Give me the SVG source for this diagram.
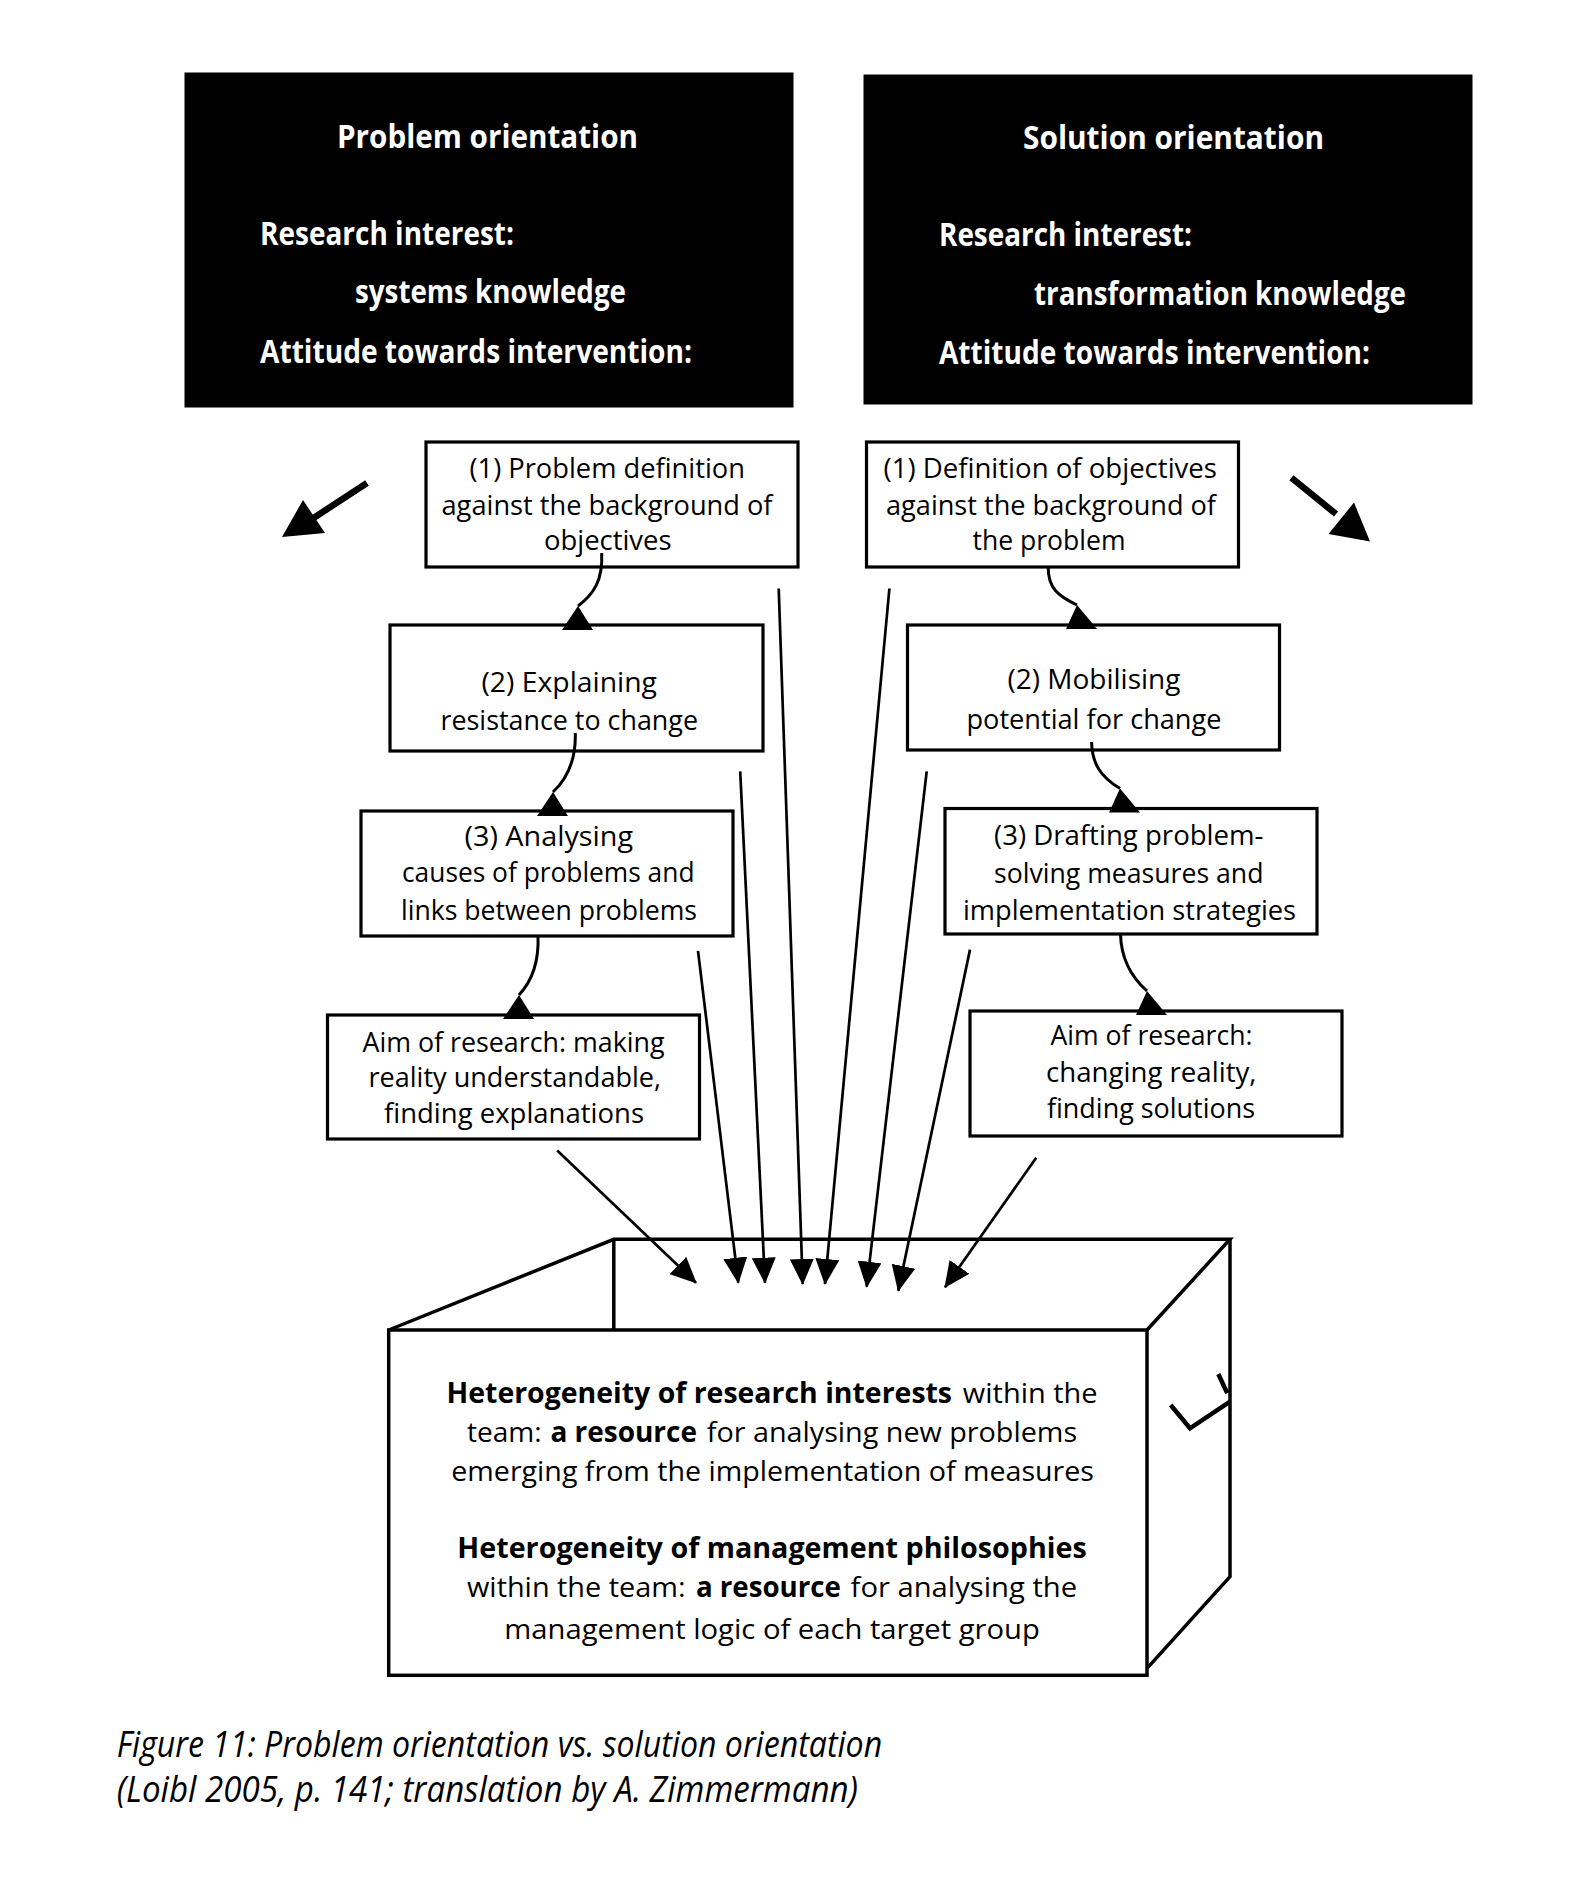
<svg xmlns="http://www.w3.org/2000/svg" width="1575" height="1887" viewBox="0 0 1575 1887">
<style>
text { font-family: "Open Sans", "Liberation Sans", Arial, sans-serif; fill: #000; }
.hd { font-size: 33px; font-weight: bold; fill: #fff; }
.bx { font-size: 28px; }
.b { font-weight: bold; }
.cap { font-size: 36px; font-style: italic; }
.box { fill: #fff; stroke: #000; stroke-width: 3.2; }
.blk { fill: #000; stroke: #000; }
.cube { fill: none; stroke: #000; stroke-width: 3.5; stroke-linejoin: miter; }
.thin { fill: none; stroke: #000; stroke-width: 2.7; }
.crv { fill: none; stroke: #000; stroke-width: 3; }
.thick { fill: none; stroke: #000; stroke-width: 6.5; }
.head { fill: #000; stroke: none; }
</style>
<defs>
<marker id="ah" markerWidth="26" markerHeight="24" refX="25" refY="12" orient="auto" markerUnits="userSpaceOnUse">
<path d="M0,0 L26,12 L0,24 z" fill="#000"/>
</marker>
</defs>
<rect width="1575" height="1887" fill="#fff"/>

<g id="problem-orientation">
<rect class="blk" x="185" y="73" width="608" height="334"/>
<text class="hd" x="337" y="148" textLength="301" lengthAdjust="spacingAndGlyphs">Problem orientation</text>
<text class="hd" x="260" y="245" textLength="254" lengthAdjust="spacingAndGlyphs">Research interest:</text>
<text class="hd" x="355" y="303" textLength="271" lengthAdjust="spacingAndGlyphs">systems knowledge</text>
<text class="hd" x="260" y="363" textLength="432" lengthAdjust="spacingAndGlyphs">Attitude towards intervention:</text>
</g>

<g id="solution-orientation">
<rect class="blk" x="864" y="75" width="608" height="329"/>
<text class="hd" x="1023" y="149" textLength="301" lengthAdjust="spacingAndGlyphs">Solution orientation</text>
<text class="hd" x="939" y="246" textLength="253" lengthAdjust="spacingAndGlyphs">Research interest:</text>
<text class="hd" x="1034" y="305" textLength="372" lengthAdjust="spacingAndGlyphs">transformation knowledge</text>
<text class="hd" x="939" y="364" textLength="431" lengthAdjust="spacingAndGlyphs">Attitude towards intervention:</text>
</g>

<g id="L1">
<rect class="box" x="426" y="442" width="372" height="125"/>
<text class="bx" x="469.5" y="478" textLength="275.5" lengthAdjust="spacingAndGlyphs">(1) Problem definition</text>
<text class="bx" x="441.5" y="514.5" textLength="331" lengthAdjust="spacingAndGlyphs">against the background of</text>
<text class="bx" x="544" y="550" textLength="127.5" lengthAdjust="spacingAndGlyphs">objectives</text>
</g>

<g id="L2">
<rect class="box" x="390" y="625" width="373" height="126"/>
<text class="bx" x="481.5" y="691.5" textLength="175.5" lengthAdjust="spacingAndGlyphs">(2) Explaining</text>
<text class="bx" x="440.5" y="730" textLength="257.5" lengthAdjust="spacingAndGlyphs">resistance to change</text>
</g>

<g id="L3">
<rect class="box" x="361" y="811" width="372" height="125"/>
<text class="bx" x="464.5" y="846" textLength="168.5" lengthAdjust="spacingAndGlyphs">(3) Analysing</text>
<text class="bx" x="402" y="882" textLength="292.5" lengthAdjust="spacingAndGlyphs">causes of problems and</text>
<text class="bx" x="401" y="919.5" textLength="296" lengthAdjust="spacingAndGlyphs">links between problems</text>
</g>

<g id="L4">
<rect class="box" x="327.5" y="1015" width="372" height="124"/>
<text class="bx" x="362.5" y="1051.5" textLength="302" lengthAdjust="spacingAndGlyphs">Aim of research: making</text>
<text class="bx" x="368.5" y="1087" textLength="292.5" lengthAdjust="spacingAndGlyphs">reality understandable,</text>
<text class="bx" x="384" y="1123" textLength="260" lengthAdjust="spacingAndGlyphs">finding explanations</text>
</g>

<g id="R1">
<rect class="box" x="866.5" y="442" width="372" height="125"/>
<text class="bx" x="883.5" y="478" textLength="333.5" lengthAdjust="spacingAndGlyphs">(1) Definition of objectives</text>
<text class="bx" x="886" y="514.5" textLength="330" lengthAdjust="spacingAndGlyphs">against the background of</text>
<text class="bx" x="972.5" y="550" textLength="153" lengthAdjust="spacingAndGlyphs">the problem</text>
</g>

<g id="R2">
<rect class="box" x="907.5" y="625" width="372" height="125"/>
<text class="bx" x="1007.5" y="688.5" textLength="173" lengthAdjust="spacingAndGlyphs">(2) Mobilising</text>
<text class="bx" x="966.5" y="728.5" textLength="255" lengthAdjust="spacingAndGlyphs">potential for change</text>
</g>

<g id="R3">
<rect class="box" x="945" y="808.5" width="372" height="125.5"/>
<text class="bx" x="994" y="845" textLength="269.5" lengthAdjust="spacingAndGlyphs">(3) Drafting problem-</text>
<text class="bx" x="994" y="883" textLength="269.5" lengthAdjust="spacingAndGlyphs">solving measures and</text>
<text class="bx" x="963" y="920" textLength="333" lengthAdjust="spacingAndGlyphs">implementation strategies</text>
</g>

<g id="R4">
<rect class="box" x="970" y="1011" width="372" height="125"/>
<text class="bx" x="1050.5" y="1045" textLength="202" lengthAdjust="spacingAndGlyphs">Aim of research:</text>
<text class="bx" x="1046" y="1081.5" textLength="210.5" lengthAdjust="spacingAndGlyphs">changing reality,</text>
<text class="bx" x="1047" y="1117.5" textLength="208" lengthAdjust="spacingAndGlyphs">finding solutions</text>
</g>

<g id="team-box">
<path class="cube" d="M388.7,1330 L613.8,1239.3 L1230,1239.3 L1147,1330"/>
<path class="cube" d="M613.8,1239.3 L613.8,1330"/>
<path class="cube" d="M1230,1239.3 L1230,1576.7 L1147,1668.3"/>
<rect class="cube" x="388.7" y="1330" width="758.3" height="345.3"/>
<path fill="none" stroke="#000" stroke-width="4.5" d="M1170.7,1405 L1190,1428.3 L1230,1401.7 M1218.3,1374 L1227.3,1393.3"/>
<text class="bx"><tspan class="b" x="446.5" y="1403" textLength="505.5" lengthAdjust="spacingAndGlyphs">Heterogeneity of research interests</tspan><tspan x="962.8" y="1403" textLength="134.8" lengthAdjust="spacingAndGlyphs">within the</tspan></text>
<text class="bx"><tspan x="467" y="1442" textLength="74.6" lengthAdjust="spacingAndGlyphs">team:</tspan><tspan class="b" x="550.4" y="1442" textLength="146.6" lengthAdjust="spacingAndGlyphs">a resource</tspan><tspan x="706.8" y="1442" textLength="370.3" lengthAdjust="spacingAndGlyphs">for analysing new problems</tspan></text>
<text class="bx" x="451.3" y="1481" textLength="642.7" lengthAdjust="spacingAndGlyphs">emerging from the implementation of measures</text>
<text class="bx b" x="457.3" y="1558" textLength="629.5" lengthAdjust="spacingAndGlyphs">Heterogeneity of management philosophies</text>
<text class="bx"><tspan x="467" y="1596.5" textLength="218.5" lengthAdjust="spacingAndGlyphs">within the team:</tspan><tspan class="b" x="695.9" y="1596.5" textLength="145" lengthAdjust="spacingAndGlyphs">a resource</tspan><tspan x="850.6" y="1596.5" textLength="226.5" lengthAdjust="spacingAndGlyphs">for analysing the</tspan></text>
<text class="bx" x="504.3" y="1638.5" textLength="535.5" lengthAdjust="spacingAndGlyphs">management logic of each target group</text>
</g>

<g id="connectors">
<!-- big direction arrows -->
<path class="thick" d="M367,483 L312,519"/>
<polygon class="head" points="282,537 303,500 325,533"/>
<path class="thick" d="M1291.4,477.8 L1336,514"/>
<polygon class="head" points="1370,541.5 1328.5,534 1354,502.5"/>
<!-- curved sequence arrows, left -->
<path class="crv" d="M601.7,553 C603,580 594,594 578,606"/>
<polygon class="head" points="578,606 562,630 593,630"/>
<path class="crv" d="M575.3,733 C576,760 568,778 553,792"/>
<polygon class="head" points="553,792 537,816 568,816"/>
<path class="crv" d="M538,936 C539,960 532,981 519,995"/>
<polygon class="head" points="519,995 503,1019 534,1019"/>
<!-- curved sequence arrows, right -->
<path class="crv" d="M1048.2,567 C1048,588 1058,596 1077,605"/>
<polygon class="head" points="1077,605 1066,629 1097,629"/>
<path class="crv" d="M1091.6,742 C1092,764 1101,777 1120,788.5"/>
<polygon class="head" points="1120,788.5 1109,812.5 1140,812.5"/>
<path class="crv" d="M1120.5,934 C1121,956 1129,975 1147,991"/>
<polygon class="head" points="1147,991 1136,1015 1167,1015"/>
<!-- converging arrows into team box -->
<line class="thin" x1="557.2" y1="1150.5" x2="696" y2="1282.7" marker-end="url(#ah)"/>
<line class="thin" x1="698" y1="950.8" x2="738.3" y2="1282.7" marker-end="url(#ah)"/>
<line class="thin" x1="740.2" y1="771.4" x2="765" y2="1282.7" marker-end="url(#ah)"/>
<line class="thin" x1="778.7" y1="588.5" x2="802.7" y2="1284" marker-end="url(#ah)"/>
<line class="thin" x1="889.4" y1="588.5" x2="825" y2="1284" marker-end="url(#ah)"/>
<line class="thin" x1="926.7" y1="771.4" x2="866.7" y2="1286.7" marker-end="url(#ah)"/>
<line class="thin" x1="970" y1="949.6" x2="898.3" y2="1290.7" marker-end="url(#ah)"/>
<line class="thin" x1="1036.2" y1="1157.8" x2="945" y2="1287.3" marker-end="url(#ah)"/>
</g>

<g id="caption">
<text class="cap" x="116.7" y="1757" textLength="765.5" lengthAdjust="spacingAndGlyphs">Figure 11: Problem orientation vs. solution orientation</text>
<text class="cap" x="116.7" y="1802" textLength="741.3" lengthAdjust="spacingAndGlyphs">(Loibl 2005, p. 141; translation by A. Zimmermann)</text>
</g>
</svg>
